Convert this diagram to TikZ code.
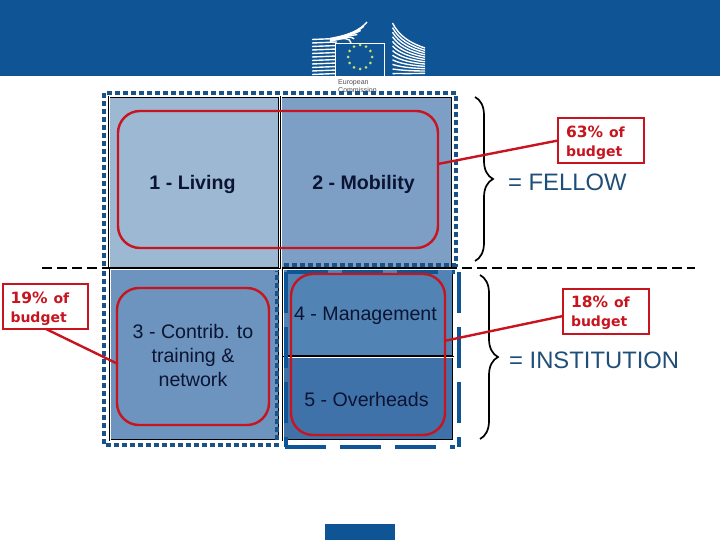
\documentclass[tikz,border=0pt]{standalone}
\usepackage{fontspec}
\setmainfont{Liberation Sans}
\newfontfamily\calloutfont{DejaVu Sans}
\usetikzlibrary{decorations.pathreplacing}

\definecolor{ecblue}{HTML}{0F5494}
\definecolor{dotblue}{HTML}{1A5288}
\definecolor{framered}{HTML}{C8141E}
\definecolor{labelnavy}{HTML}{0B1433}
\definecolor{fellowblue}{HTML}{1F4E79}
\definecolor{livingfill}{HTML}{9DB8D2}
\definecolor{mobilityfill}{HTML}{7D9FC5}
\definecolor{trainingfill}{HTML}{6C94BE}
\definecolor{managementfill}{HTML}{5283B5}
\definecolor{overheadsfill}{HTML}{3F72A9}
\definecolor{starcolor}{HTML}{C8E070}

\newcommand{\budgetshare}[1]{\rule{0pt}{16pt}{\fontsize{15.5}{19}\selectfont #1}\hspace{6pt}of\\budget}

\tikzset{
    box/.style={rectangle, inner sep=0pt, outer sep=0pt},
    cell/.style={box, draw=black, line width=.7pt, double=white, double distance=1pt},
    celltext/.style={text=labelnavy, font=\fontsize{19.6}{24}\selectfont, align=center, inner sep=0pt},
    boldtext/.style={text=labelnavy, font=\bfseries\fontsize{19.6}{24}\selectfont, inner sep=0pt},
    redframe/.style={box, draw=framered, line width=2.4pt, rounded corners=22pt},
    dotline/.style={draw=dotblue, line width=4pt, dash pattern=on 5pt off 3pt},
    dashline/.style={draw=ecblue, line width=4.5pt, dash pattern=on 41pt off 14pt},
    callout/.style={box, draw=framered, line width=2pt, fill=white, text=framered,
        font=\calloutfont\bfseries\fontsize{14}{19}\selectfont, align=left, text width=70pt,
        minimum width=85pt, minimum height=45pt},
    leader/.style={draw=framered, line width=2.4pt},
    bracket/.style={draw=black, line width=1.7pt, decorate,
        decoration={brace, amplitude=18pt, aspect=0.5}},
    sidelabel/.style={text=fellowblue, font=\fontsize{23.8}{26}\selectfont, inner sep=0pt},
    stripe/.style={draw=white, line width=1.4pt}
}

\begin{document}
\begin{tikzpicture}[x=1pt, y=-1pt]
    \useasboundingbox (0,0) rectangle (720,540);

    % header and logo
    \fill[ecblue] (0,0) rectangle (720,76);
    \foreach \i in {0,...,10}
        \draw[stripe] (312,{39.5+\i*3.5}) -- (337,{38.5+\i*3.5});
    \foreach \i in {0,...,5}
        \draw[stripe] (330,{38.5+\i*.6}) .. controls ({350-\i},{35+\i*.4}) and ({360-\i*2},{30+\i*1.6}) .. ({367-\i*3.2},{22+\i*4.2});
    \foreach \i in {0,...,11}
        \draw[stripe] (392.5,{23+\i*4.6}) .. controls (399,{36+\i*3.4}) and (410,{43+\i*2.8}) .. (425,{48+\i*2.3});
    \fill[ecblue] (335,43) rectangle (385,76);
    \draw[white, line width=.7pt] (335,76) -- (335,43) -- (384.5,43) -- (384.5,76);
    \foreach \a in {0,30,...,330}
        \fill[starcolor] ({360+12*cos(\a)},{57+12*sin(\a)}) circle (1.5pt);
    \node[anchor=north west, inner sep=0pt, text=black!70, align=left, font=\fontsize{7}{8.5}\selectfont] (commission) at (338,79) {European\\Commission};

    % the five cells
    \node[cell, fill=livingfill, minimum width=170pt, minimum height=171pt] (living) at (194,182.5) {};
    \node[cell, fill=mobilityfill, minimum width=171pt, minimum height=171pt] (mobility) at (366.5,182.5) {};
    \node[cell, fill=trainingfill, minimum width=169pt, minimum height=171pt] (training) at (194.5,354.5) {};
    \node[cell, fill=managementfill, minimum width=170pt, minimum height=87pt] (management) at (368,312.5) {};
    \node[cell, fill=overheadsfill, minimum width=170pt, minimum height=83pt] (overheads) at (368,398.5) {};

    % dashed outlines round the groups
    \draw[dotline] (104,266) -- (104,93) -- (456,93) -- (456,265) -- (282,265);
    \draw[dotline] (104,271) -- (104,445) -- (277,445) -- (277,271);
    \draw[dashline] (287,272) -- (455,272);
    \draw[dashline] (286,272) -- (286,447);
    \draw[dashline] (459,272) -- (459,447);
    \draw[dashline, dash phase=36pt] (455,447) -- (282,447);

    % red frames
    \node[redframe, minimum width=320pt, minimum height=137pt] (fellowframe) at (278,179.5) {};
    \node[redframe, minimum width=152pt, minimum height=137pt] (trainingframe) at (193,356.5) {};
    \node[redframe, minimum width=154pt, minimum height=161pt] (institutionframe) at (368,354.5) {};

    % cell texts
    \node[boldtext] (livingtext) at (192.5,184.5) {1 - Living};
    \node[boldtext] (mobilitytext) at (363.5,184.5) {2 - Mobility};
    \node[celltext] (trainingtext) at (193,355) {3 - Contrib. to\\training \&\\network};
    \node[celltext] (managementtext) at (365.5,316) {4 - Management};
    \node[celltext] (overheadstext) at (366.5,399.5) {5 - Overheads};

    % separator
    \coordinate (sepleft) at (42,268);
    \coordinate (sepright) at (695,268);
    \draw[black, line width=1.6pt, dash pattern=on 10pt off 5pt] (sepleft) -- (sepright);

    % braces
    \coordinate (fellowtop) at (475,97);
    \coordinate (fellowbottom) at (475,261);
    \coordinate (institutiontop) at (480,275);
    \coordinate (institutionbottom) at (480,439);
    \draw[bracket] (fellowtop) -- (fellowbottom);
    \draw[bracket] (institutiontop) -- (institutionbottom);
    \node[sidelabel, anchor=west] (fellow) at (508,182) {= FELLOW};
    \node[sidelabel, anchor=west] (institution) at (509,360) {= INSTITUTION};

    % budget callouts
    \node[callout, minimum width=86pt] (budgetfellow) at (601,140.5) {\budgetshare{63\%}};
    \node[callout] (budgettraining) at (45.5,306.5) {\budgetshare{19\%}};
    \node[callout, minimum width=86pt] (budgetinstitution) at (606,311) {\budgetshare{18\%}};

    \coordinate (fellowhit) at (438,164);
    \coordinate (traininghit) at (118,364);
    \coordinate (institutionhit) at (444,341);
    \coordinate (trainingfoot) at (46,329);
    \coordinate (institutionfoot) at (563,316);
    \draw[leader] (budgetfellow.west) -- (fellowhit);
    \draw[leader] (trainingfoot) -- (traininghit);
    \draw[leader] (institutionfoot) -- (institutionhit);

    % footer mark
    \fill[ecblue] (325,524) rectangle (395,540);
\end{tikzpicture}
\end{document}
